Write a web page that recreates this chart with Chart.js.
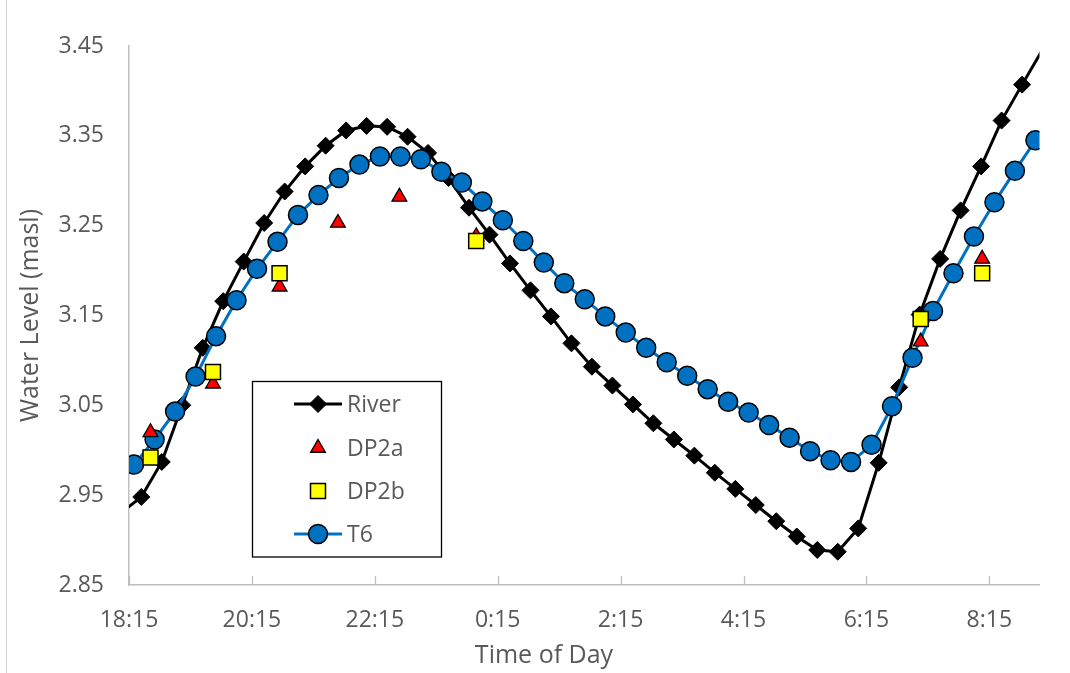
<!DOCTYPE html>
<html>
<head>
<meta charset="utf-8">
<script src="https://cdn.jsdelivr.net/npm/chart.js@4.4.1/dist/chart.umd.min.js"></script>
<style>
html,body{margin:0;padding:0;background:#ffffff;}
#wrap{position:relative;width:1070px;height:673px;}
canvas{display:block;}
</style>
</head>
<body>
<div id="wrap"><canvas id="c" width="1070" height="673"></canvas></div>
<script>
// ---------- data ----------
const riverTimes = ['18:07','18:27','18:47','19:07','19:27','19:47','20:07','20:27','20:47','21:07','21:27','21:47',
  '22:07','22:27','22:47','23:07','23:27','23:47','0:07','0:27','0:47','1:07','1:27','1:47','2:07','2:27','2:47',
  '3:07','3:27','3:47','4:07','4:27','4:47','5:07','5:27','5:47','6:07','6:27','6:47','7:07','7:27','7:47',
  '8:07','8:27','8:47','9:07'];
const riverLevels = [2.930,2.948,2.987,3.050,3.114,3.166,3.210,3.253,3.288,3.316,3.339,3.356,
  3.361,3.360,3.349,3.331,3.303,3.270,3.240,3.208,3.178,3.149,3.119,3.093,3.072,3.051,3.030,
  3.012,2.994,2.975,2.957,2.939,2.921,2.904,2.889,2.887,2.913,2.986,3.070,3.151,3.213,3.267,
  3.316,3.367,3.407,3.446];

const t6Times = ['18:20','18:40','19:00','19:20','19:40','20:00','20:20','20:40','21:00','21:20','21:40','22:00',
  '22:20','22:40','23:00','23:20','23:40','0:00','0:20','0:40','1:00','1:20','1:40','2:00','2:20','2:40',
  '3:00','3:20','3:40','4:00','4:20','4:40','5:00','5:20','5:40','6:00','6:20','6:40','7:00','7:20','7:40',
  '8:00','8:20','8:40','9:00'];
const t6Levels = [2.984,3.012,3.043,3.082,3.127,3.167,3.202,3.232,3.262,3.284,3.303,3.318,
  3.327,3.327,3.324,3.310,3.298,3.277,3.256,3.233,3.209,3.186,3.168,3.149,3.131,3.114,
  3.098,3.083,3.068,3.054,3.042,3.028,3.014,2.999,2.989,2.987,3.006,3.049,3.103,3.155,3.197,
  3.238,3.276,3.311,3.345];

const dp2aTimes = ['18:36','19:37','20:42','21:39','22:39','23:54','7:08','8:08'];
const dp2aLevels = [3.020,3.074,3.182,3.253,3.282,3.238,3.121,3.213];

const dp2bTimes = ['18:36','19:37','20:42','23:54','7:08','8:08'];
const dp2bLevels = [2.992,3.087,3.197,3.233,3.146,3.197];

const xTickLabels = ['18:15','20:15','22:15','0:15','2:15','4:15','6:15','8:15'];
const yTickValues = [2.85,2.95,3.05,3.15,3.25,3.35,3.45];
const axisStart = '18:15';
const axisEnd = '9:04';
const seriesNames = ['River','DP2a','DP2b','T6'];

// ---------- helpers ----------
function toHours(s){
  const p = s.split(':').map(Number);
  let v = p[0] + p[1]/60;
  if (v < 12) v += 24;
  return v - 18.25;
}
const xMin = toHours(axisStart), xMax = toHours(axisEnd);
function pts(times, levels){ return times.map((t,i)=>({x: toHours(t), y: levels[i]})); }

const FONT = "'Open Sans', 'Liberation Sans', sans-serif";
const TXT = '#595959';
const AXIS = '#bfbfbf';

const riverRadius = 8.5;

// ---------- plugins ----------
const bgPlugin = {
  id: 'bg',
  beforeDraw(chart){
    const ctx = chart.ctx;
    ctx.save();
    ctx.fillStyle = '#ffffff';
    ctx.fillRect(0,0,chart.width,chart.height);
    ctx.strokeStyle = '#d4d4d4';
    ctx.lineWidth = 1;
    ctx.beginPath(); ctx.moveTo(6.5,0); ctx.lineTo(6.5,chart.height); ctx.stroke();
    ctx.restore();
  }
};

const tickMarkPlugin = {
  id: 'innerTicks',
  beforeDatasetsDraw(chart){
    const xs = chart.scales.x, ctx = chart.ctx;
    ctx.save();
    ctx.strokeStyle = AXIS; ctx.lineWidth = 1.3;
    ctx.beginPath();
    xs.ticks.forEach(t => {
      const px = Math.round(xs.getPixelForValue(t.value)) + 0.5;
      ctx.moveTo(px, xs.top); ctx.lineTo(px, xs.top - 9);
    });
    ctx.stroke();
    ctx.restore();
  }
};

function drawMarker(ctx, style, r, x, y, bw){
  if (Chart.helpers && Chart.helpers.drawPoint) {
    Chart.helpers.drawPoint(ctx, {pointStyle: style, radius: r, rotation: 0, borderWidth: bw}, x, y);
  }
}

const legendPlugin = {
  id: 'boxLegend',
  afterDraw(chart){
    const ctx = chart.ctx;
    const L = 252.5, T = 381.5, R = 441.5, B = 557;
    ctx.save();
    ctx.fillStyle = '#ffffff';
    ctx.fillRect(L, T, R-L, B-T);
    ctx.strokeStyle = '#000000'; ctx.lineWidth = 1.3;
    ctx.strokeRect(L, T, R-L, B-T);
    const rows = [404, 448, 491, 534];
    chart.data.datasets.forEach((ds, i) => {
      const y = rows[i];
      if (ds.showLine !== false) {
        ctx.strokeStyle = ds.borderColor; ctx.lineWidth = ds.borderWidth;
        ctx.beginPath(); ctx.moveTo(294, y); ctx.lineTo(342, y); ctx.stroke();
      }
      ctx.fillStyle = ds.pointBackgroundColor;
      ctx.strokeStyle = ds.pointBorderColor;
      ctx.lineWidth = ds.pointBorderWidth;
      const r = typeof ds.pointRadius === 'number' ? ds.pointRadius : riverRadius;
      drawMarker(ctx, ds.pointStyle, r, 318, y, ds.pointBorderWidth);
      ctx.fillStyle = TXT;
      ctx.font = "23px " + FONT;
      ctx.textAlign = 'left'; ctx.textBaseline = 'middle';
      ctx.fillText(ds.label, 347, y + 1);
    });
    ctx.restore();
  }
};

// ---------- chart ----------
Chart.defaults.font.family = FONT;
Chart.defaults.color = TXT;

new Chart(document.getElementById('c'), {
  type: 'line',
  data: {
    datasets: [
      {
        label: seriesNames[0], data: pts(riverTimes, riverLevels), order: 3,
        borderColor: '#000000', borderWidth: 3, tension: 0,
        pointStyle: 'rectRot',
        pointRadius: c => (c.raw && c.raw.x >= xMin && c.raw.x <= xMax) ? riverRadius : 0,
        pointBackgroundColor: '#000000', pointBorderColor: '#000000', pointBorderWidth: 1
      },
      {
        label: seriesNames[1], data: pts(dp2aTimes, dp2aLevels), order: 1, showLine: false,
        borderColor: '#ff0000', borderWidth: 0,
        pointStyle: 'triangle', pointRadius: 8.5,
        pointBackgroundColor: '#ff0000', pointBorderColor: '#000000', pointBorderWidth: 1.3
      },
      {
        label: seriesNames[2], data: pts(dp2bTimes, dp2bLevels), order: 0, showLine: false,
        borderColor: '#ffff00', borderWidth: 0,
        pointStyle: 'rect', pointRadius: 10.6,
        pointBackgroundColor: '#ffff00', pointBorderColor: '#000000', pointBorderWidth: 1.5
      },
      {
        label: seriesNames[3], data: pts(t6Times, t6Levels), order: 2,
        borderColor: '#0070c0', borderWidth: 3, tension: 0,
        pointStyle: 'circle', pointRadius: 9.5,
        pointBackgroundColor: '#0070c0', pointBorderColor: '#000000', pointBorderWidth: 1.5
      }
    ]
  },
  options: {
    responsive: false,
    animation: false,
    devicePixelRatio: 1,
    events: [],
    layout: { padding: { left: 18, right: 0, top: 46, bottom: 0 } },
    plugins: {
      legend: { display: false },
      tooltip: { enabled: false },
      title: {
        display: true, position: 'bottom', text: 'Time of Day', color: TXT,
        font: { family: FONT, size: 25, weight: 'normal', lineHeight: 1.2 },
        padding: { top: 0, bottom: 2 }
      }
    },
    scales: {
      x: {
        type: 'linear', min: xMin, max: xMax,
        grid: { display: false },
        border: { display: true, color: AXIS, width: 1.5 },
        afterBuildTicks: s => { s.ticks = xTickLabels.map(l => ({ value: toHours(l) })); },
        afterFit: s => { s.height = 56; s.paddingRight = 30.5; },
        ticks: {
          autoSkip: false, maxRotation: 0, padding: 14, color: TXT,
          font: { family: FONT, size: 23 },
          callback: (v, i) => xTickLabels[i]
        },
        title: { display: false }
      },
      y: {
        type: 'linear', min: 2.85, max: 3.45,
        grid: { display: false },
        border: { display: true, color: AXIS, width: 1.5 },
        afterBuildTicks: s => { s.ticks = yTickValues.map(v => ({ value: v })); },
        afterFit: s => { s.width = 111; },
        ticks: {
          padding: 17, color: TXT,
          font: { family: FONT, size: 23 },
          callback: v => Number(v).toFixed(2)
        },
        title: {
          display: true, text: 'Water Level (masl)', color: TXT,
          font: { family: FONT, size: 25, lineHeight: 1 },
          padding: { top: 0, bottom: 0 }
        }
      }
    }
  },
  plugins: [bgPlugin, tickMarkPlugin, legendPlugin]
});
</script>
</body>
</html>
